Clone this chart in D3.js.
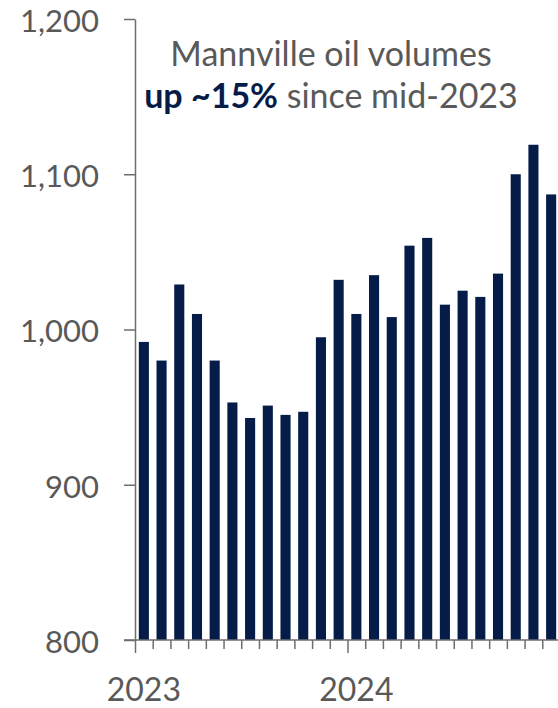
<!DOCTYPE html>
<html>
<head>
<meta charset="utf-8">
<script src="https://cdn.jsdelivr.net/npm/d3@7"></script>
<style>
  html, body { margin: 0; padding: 0; background: #ffffff; }
  svg { display: block; }
  text { font-family: Lato, "Open Sans", sans-serif; }
</style>
</head>
<body>
<svg id="chart" width="558" height="708"></svg>
<script>
// Monthly Mannville oil volumes, Jan 2023 – Dec 2024
const months = [
  "2023-01","2023-02","2023-03","2023-04","2023-05","2023-06",
  "2023-07","2023-08","2023-09","2023-10","2023-11","2023-12",
  "2024-01","2024-02","2024-03","2024-04","2024-05","2024-06",
  "2024-07","2024-08","2024-09","2024-10","2024-11","2024-12"
];
const volumes = [
  992, 980, 1029, 1010, 980, 953,
  943, 951, 945, 947, 995, 1032,
  1010, 1035, 1008, 1054, 1059, 1016,
  1025, 1021, 1036, 1100, 1119, 1087
];
const yTicks = [800, 900, 1000, 1100, 1200];
const yearLabels = ["2023", "2024"];

const navy = "#061c48";
const grey = "#595959";
const axisGrey = "#6e6e6e";

const svg = d3.select("#chart");

const plotLeft = 135, plotRight = 560, plotTop = 19, plotBottom = 640;

const y = d3.scaleLinear().domain([800, 1200]).range([plotBottom, plotTop]);
const x = d3.scaleBand().domain(months).range([plotLeft, plotRight])
  .paddingInner(0.43).paddingOuter(0.215);
// month boundaries for the tick marks
const xi = d3.scaleLinear().domain([0, months.length]).range([plotLeft, plotRight]);

// bars
svg.append("g")
  .selectAll("rect")
  .data(months)
  .join("rect")
  .attr("x", d => x(d))
  .attr("width", x.bandwidth())
  .attr("y", (d, i) => y(volumes[i]))
  .attr("height", (d, i) => y(800) - y(volumes[i]))
  .attr("fill", navy);

// y axis
const yAxis = svg.append("g")
  .attr("transform", `translate(${plotLeft},0)`)
  .call(d3.axisLeft(y).tickValues(yTicks).tickFormat(d3.format(",")).tickSize(11).tickSizeOuter(0).tickPadding(25));
yAxis.select(".domain").attr("stroke", axisGrey).attr("stroke-width", 1.5);
yAxis.selectAll(".tick line").attr("stroke", axisGrey).attr("stroke-width", 1.5);
yAxis.selectAll(".tick text")
  .attr("fill", grey)
  .attr("dy", "0.4em")
  .style("font-size", "31px")
  .style("font-family", "Lato, sans-serif");

// x axis: minor ticks at every month boundary, longer ticks at each January
const idx = d3.range(0, months.length + 1);
const xAxis = svg.append("g")
  .attr("transform", `translate(0,${plotBottom})`)
  .call(d3.axisBottom(xi).tickValues(idx).tickSizeOuter(0).tickFormat(""));
xAxis.select(".domain").remove();
xAxis.selectAll(".tick line")
  .attr("stroke", axisGrey).attr("stroke-width", 1.5)
  .attr("y2", d => (d % 12 === 0 ? 13 : 9));
xAxis.append("line")
  .attr("x1", plotLeft - 11).attr("x2", plotRight)
  .attr("stroke", axisGrey).attr("stroke-width", 1.5);

// year labels under each January
svg.append("g")
  .selectAll("text")
  .data(yearLabels)
  .join("text")
  .attr("x", (d, i) => x(months[i * 12]) + x.bandwidth() / 2)
  .attr("y", 701)
  .attr("text-anchor", "middle")
  .attr("fill", grey)
  .style("font-size", "32px")
  .text(d => d);

// annotation
const note = svg.append("text")
  .attr("text-anchor", "middle")
  .style("font-size", "34px");
note.append("tspan")
  .attr("x", 331).attr("y", 66)
  .attr("fill", grey)
  .text("Mannville oil volumes");
const l2 = note.append("tspan")
  .attr("x", 331).attr("y", 108);
l2.append("tspan").attr("fill", navy).attr("font-weight", 700).text("up ~15%");
l2.append("tspan").attr("fill", grey).text(" since mid-2023");
</script>
</body>
</html>
